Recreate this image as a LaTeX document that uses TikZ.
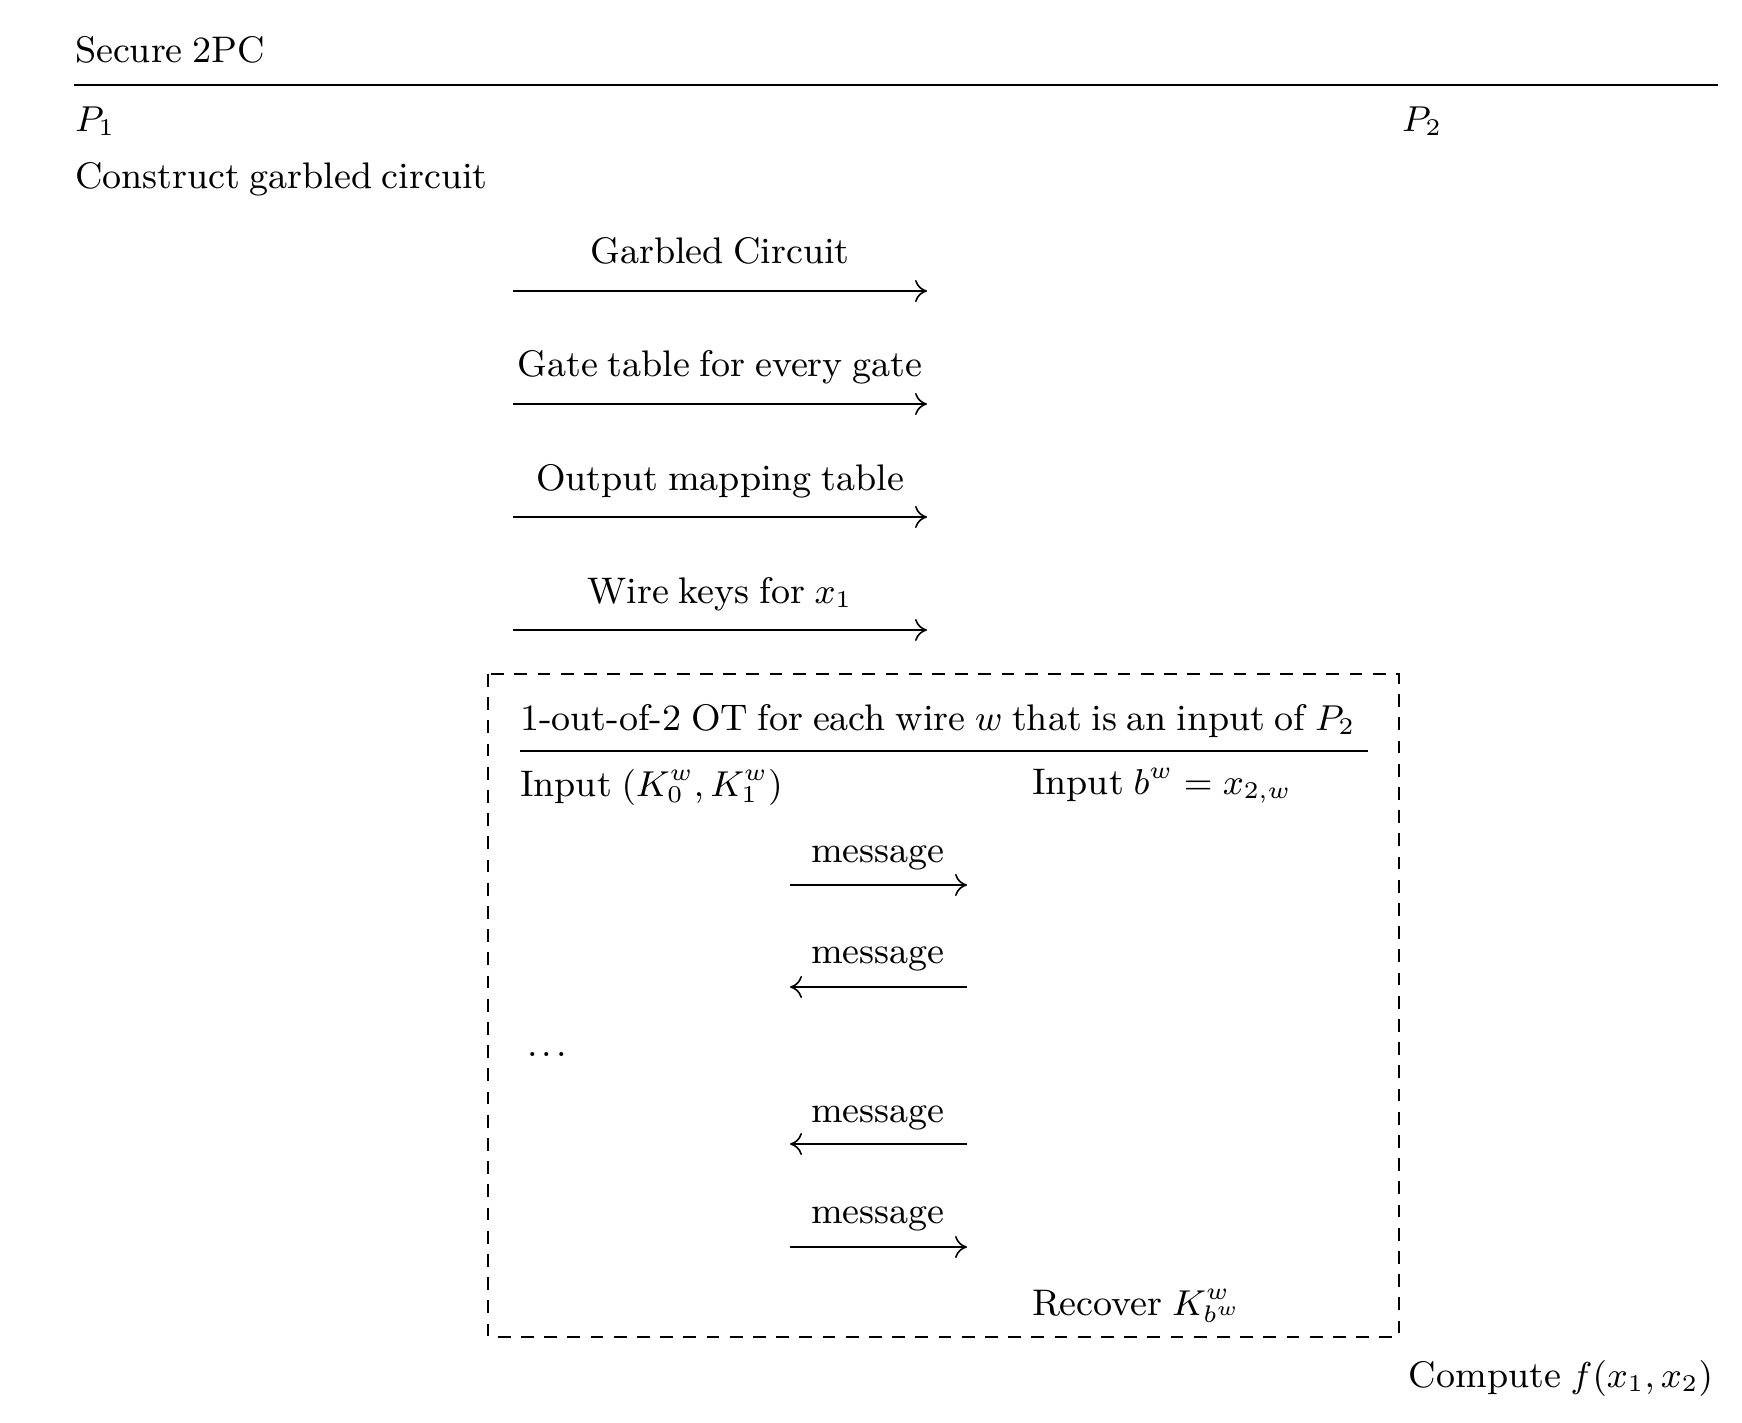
\documentclass[tikz,border=0pt]{standalone}
\usetikzlibrary{arrows.meta}
\newcommand\diagfont{\fontsize{9.25}{11}\selectfont\spaceskip=0.26em plus 0.1em minus 0.05em\relax}
\begin{document}
\begin{tikzpicture}[x=0.25pt,y=-0.25pt,
  every node/.style={inner sep=0pt, outer sep=0pt, font=\diagfont},
  txt/.style={anchor=base west},
  txte/.style={anchor=base east},
  lbl/.style={anchor=base},
  msg/.style={line width=0.4pt, -{Computer Modern Rightarrow[length=3pt,width=5.5pt]}},
  hrule/.style={line width=0.4pt},
  otbox/.style={line width=0.4pt, dash pattern=on 3.2pt off 2.6pt}]
\useasboundingbox (0,0) rectangle (1742,1422);

% header
\node[txt] (title) at (75,63) {Secure 2PC};
\coordinate (r1) at (74,85);
\coordinate (r2) at (1718,85);
\draw[hrule] (r1) -- (r2);
\node[txt] (p1) at (75,132) {$P_1$};
\node[txt] (p2) at (1402,132) {$P_2$};
\node[txt] (construct) at (75,189) {Construct garbled circuit};

% outer messages
\coordinate (g1s) at (513,291); \coordinate (g1e) at (927,291);
\coordinate (g2s) at (513,404); \coordinate (g2e) at (927,404);
\coordinate (g3s) at (513,517); \coordinate (g3e) at (927,517);
\coordinate (g4s) at (513,630); \coordinate (g4e) at (927,630);
\draw[msg] (g1s) -- (g1e);
\draw[msg] (g2s) -- (g2e);
\draw[msg] (g3s) -- (g3e);
\draw[msg] (g4s) -- (g4e);
\node[lbl] (l1) at (720,264) {Garbled Circuit};
\node[lbl] (l2) at (720,377) {Gate table for every gate};
\node[lbl] (l3) at (720,490) {Output mapping table};
\node[lbl] (l4) at (720,603) {Wire keys for $x_1$};

% OT box
\coordinate (boxnw) at (488,674);
\coordinate (boxse) at (1399,1337);
\draw[otbox] (boxnw) rectangle (boxse);
\node[txt] (ottitle) at (520,730) {1-out-of-2 OT for each wire $w$ that is an input of $P_2$};
\coordinate (t1) at (520,751);
\coordinate (t2) at (1368,751);
\draw[hrule] (t1) -- (t2);
\node[txt] (in1) at (520,796) {Input $(K_0^w,K_1^w)$};
\node[txt] (in2) at (1032,794) {Input $b^w=x_{2,w}$};

\coordinate (m1s) at (790,885);  \coordinate (m1e) at (967,885);
\coordinate (m2s) at (790,987);  \coordinate (m2e) at (967,987);
\coordinate (m3s) at (790,1144); \coordinate (m3e) at (967,1144);
\coordinate (m4s) at (790,1247); \coordinate (m4e) at (967,1247);
\draw[msg] (m1s) -- (m1e);
\draw[msg] (m2e) -- (m2s);
\draw[msg] (m3e) -- (m3s);
\draw[msg] (m4s) -- (m4e);
\node[lbl] (ml1) at (878,862) {message};
\node[lbl] (ml2) at (878,963) {message};
\node[lbl] (ml3) at (878,1122) {message};
\node[lbl] (ml4) at (878,1223) {message};
\node[txt] (dots) at (527,1056) {.\hspace{1.1pt}.\hspace{1.1pt}.};
\node[txt] (recover) at (1032,1315) {Recover $K_{b^w}^w$};

\node[txte] (compute) at (1713,1387) {Compute $f(x_1,x_2)$};
\end{tikzpicture}
\end{document}
